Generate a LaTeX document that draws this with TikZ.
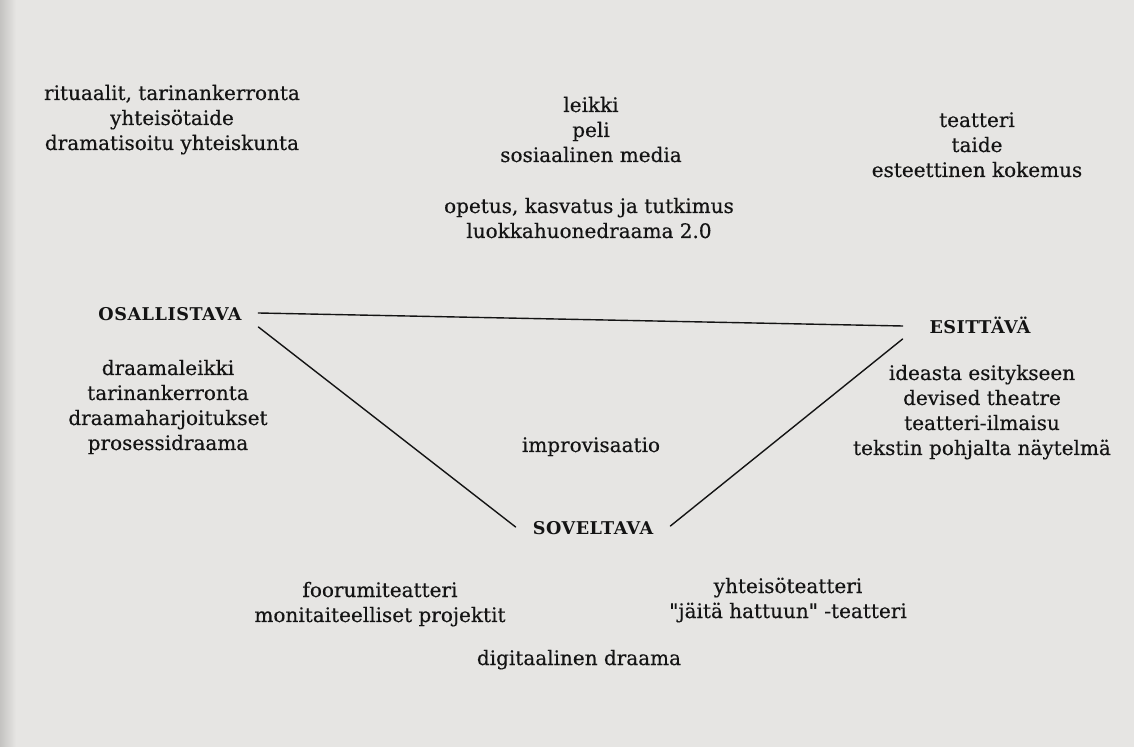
\documentclass[tikz,border=0pt]{standalone}
\usepackage{fontspec}
\setmainfont[FakeBold=0.4]{DejaVu Serif}
\newfontfamily\capsfont[LetterSpace=3]{DejaVu Serif Bold}
\usepackage{xcolor}
\usepackage{tikz}
\usetikzlibrary{calc}
\definecolor{pagegray}{RGB}{230,229,227}
\definecolor{pageedge}{RGB}{196,195,193}
\definecolor{inkblack}{RGB}{20,20,20}

\begin{document}
\begin{tikzpicture}[x=0.5pt, y=-0.5pt, line cap=round, line join=round,
    lbl/.style={inkblack, anchor=base, align=center, inner sep=0pt,
      font=\fontsize{10}{12.5}\selectfont},
    corner/.style={inkblack, anchor=base, inner sep=0pt,
      font=\capsfont\fontsize{8.8}{10}\selectfont},
    link/.style={inkblack, line width=0.7pt}]
  \useasboundingbox (0,0) rectangle (1134,747); % page photo, 1 unit = 1 px
  % paper
  \fill[pagegray] (0,0) rectangle (1134,747);
  \shade[left color=pageedge, right color=pagegray] (0,0) rectangle (16,747);

  % three corners of the triangle
  \node[corner, minimum width=88pt] (osal) at (170,321) {OSALLISTAVA};
  \node[corner, minimum width=77pt] (esit) at (980,334) {ESITTÄVÄ};
  \node[corner, minimum width=77pt] (sov) at (593,535) {SOVELTAVA};

  \draw[link] ($(osal.base east)+(0,-8)$) -- ($(esit.base west)+(0,-8)$);
  \draw[link] ($(osal.base east)+(0,6)$) -- ($(sov.base west)+(0,-8)$);
  \draw[link] ($(sov.base east)+(0,-9)$) -- ($(esit.base west)+(0,5)$);

  % forms of drama round the triangle (base = last line)
  \node[lbl] (ritual) at (172,150) {rituaalit, tarinankerronta\\yhteisötaide\\dramatisoitu yhteiskunta};
  \node[lbl] (leikki) at (591,162) {leikki\\peli\\sosiaalinen media};
  \node[lbl] (teatteri) at (977,177) {teatteri\\taide\\esteettinen kokemus};
  \node[lbl] (opetus) at (589,238) {opetus, kasvatus ja tutkimus\\luokkahuonedraama 2.0};

  \node[lbl] (draama) at (168,450) {draamaleikki\\tarinankerronta\\draamaharjoitukset\\prosessidraama};
  \node[lbl] (ideasta) at (982,455) {ideasta esitykseen\\devised theatre\\teatteri-ilmaisu\\tekstin pohjalta näytelmä};
  \node[lbl] (improv) at (591,452) {improvisaatio};

  \node[lbl] (foorumi) at (380,622) {foorumiteatteri\\monitaiteelliset projektit};
  \node[lbl] (yhteiso) at (788,618) {yhteisöteatteri\\\textquotedbl jäitä hattuun\textquotedbl{} -teatteri};
  \node[lbl] (digi) at (579,665) {digitaalinen draama};

\end{tikzpicture}
\end{document}
